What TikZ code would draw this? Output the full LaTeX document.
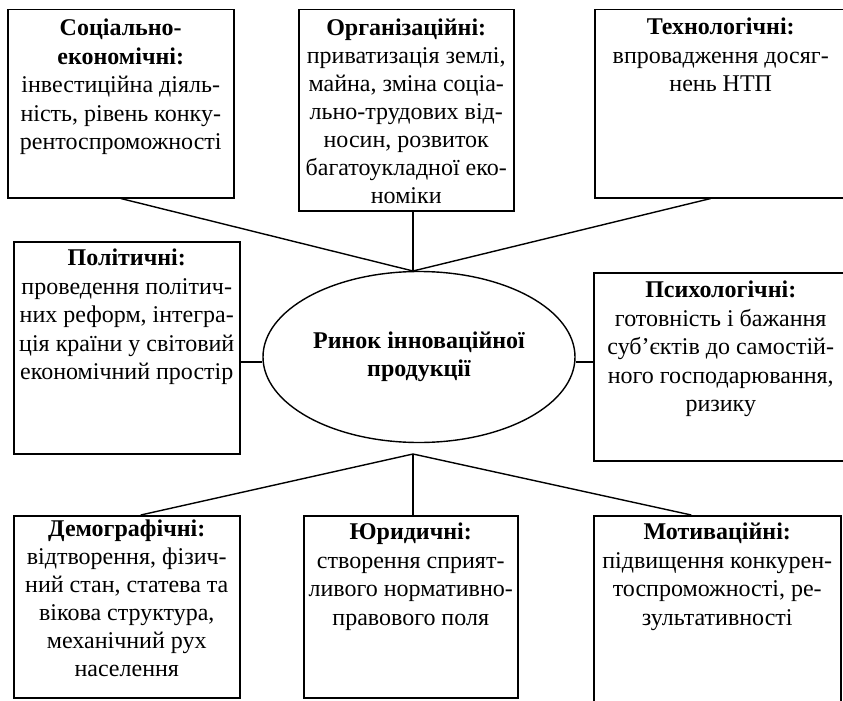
\documentclass[tikz,border=0pt]{standalone}
\usepackage{fontspec}
\setmainfont{Liberation Serif}
\usetikzlibrary{shapes.geometric}
\begin{document}
\begin{tikzpicture}[x=1pt,y=-1pt,
  box/.style={draw, line width=1.5pt, rectangle, anchor=north west, inner sep=0pt},
  txt/.style={anchor=north, align=center, inner sep=0pt, font=\fontsize{24}{28.5}\selectfont},
  tight/.style={font=\fontsize{24}{28}\selectfont},
  conn/.style={line width=1.4pt}]
\useasboundingbox (0,0) rectangle (843,701);
\clip (0,0) rectangle (843,701);
% boxes
\node[box, minimum width=226pt, minimum height=188pt] (soc) at (7,9) {};
\node[box, minimum width=215pt, minimum height=201pt] (org) at (298,9) {};
\node[box, minimum width=252pt, minimum height=188pt] (tech) at (594,9) {};
\node[box, minimum width=226pt, minimum height=212pt] (pol) at (13,241) {};
\node[box, minimum width=254pt, minimum height=188pt] (psy) at (593,272) {};
\node[box, minimum width=226pt, minimum height=182pt] (dem) at (13,515) {};
\node[box, minimum width=214pt, minimum height=182pt] (jur) at (303,515) {};
\node[box, minimum width=247pt, minimum height=200pt] (mot) at (593,515) {};
% texts
\node[txt] (soct) at ([yshift=-10pt]soc.north) {\textbf{Соціально-}\\\textbf{економічні:}\\інвестиційна діяль-\\ність, рівень конку-\\рентоспроможності};
\node[txt, tight] (orgt) at ([yshift=-10pt]org.north) {\textbf{Організаційні:}\\приватизація землі,\\майна, зміна соціа-\\льно-трудових від-\\носин, розвиток\\багатоукладної еко-\\номіки};
\node[txt] (techt) at ([yshift=-9pt]tech.north) {\textbf{Технологічні:}\\впровадження досяг-\\нень НТП};
\node[txt] (polt) at ([yshift=-8pt]pol.north) {\textbf{Політичні:}\\проведення політич-\\них реформ, інтегра-\\ція країни у світовий\\економічний простір};
\node[txt] (psyt) at ([yshift=-9pt]psy.north) {\textbf{Психологічні:}\\готовність і бажання\\суб’єктів до самостій-\\ного господарювання,\\ризику};
\node[txt, tight] (demt) at ([yshift=-5pt]dem.north) {\textbf{Демографічні:}\\відтворення, фізич-\\ний стан, статева та\\вікова структура,\\механічний рух\\населення};
\node[txt] (jurt) at ([yshift=-8pt]jur.north) {\textbf{Юридичні:}\\створення сприят-\\ливого нормативно-\\правового поля};
\node[txt] (mott) at ([yshift=-8pt]mot.north) {\textbf{Мотиваційні:}\\підвищення конкурен-\\тоспроможності, ре-\\зультативності};
% centre
\node[ellipse, draw, line width=1.4pt, minimum width=312pt, minimum height=171pt, inner sep=0pt, align=center, font=\bfseries\fontsize{24}{28.5}\selectfont] (ell) at (419,357) {Ринок інноваційної\\продукції};
\coordinate (top) at (413,271);
\coordinate (bot) at (413,454);
\coordinate (lc) at ([yshift=-5pt]ell.west);
\coordinate (rc) at ([yshift=-5pt]ell.east);
% connectors
\draw[conn] (soc.south) -- (top);
\draw[conn] (org.south -| top) -- (top);
\draw[conn] ([xshift=-10pt]tech.south) -- (top);
\draw[conn] (lc) -- (lc -| pol.east);
\draw[conn] (rc) -- (rc -| psy.west);
\draw[conn] ([xshift=14pt]dem.north) -- (bot);
\draw[conn] (jur.north -| bot) -- (bot);
\draw[conn] ([xshift=-26pt]mot.north) -- (bot);
\end{tikzpicture}
\end{document}
